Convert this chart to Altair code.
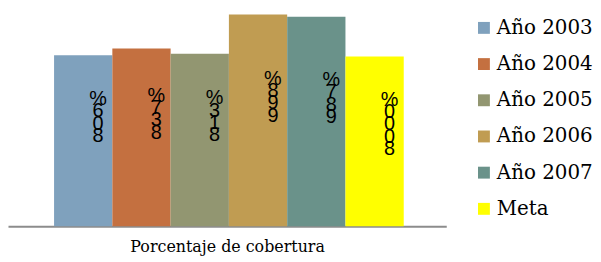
import altair as alt
import pandas as pd

series = ["Año 2003", "Año 2004", "Año 2005", "Año 2006", "Año 2007", "Meta"]
values = [80.6, 83.7, 81.3, 99.8, 98.7, 80.0]
labels = ["80,6%", "83,7%", "81,3%", "99,8%", "98,7%", "80,00%"]
colors = ["#7FA1BD", "#C47040", "#929671", "#C09C52", "#6A928A", "#FFFF00"]
category = "Porcentaje de cobertura"

def stacked(s):
    return "\n".join(ch for ch in reversed(s) if ch != ",")

df = pd.DataFrame({
    "serie": series,
    "valor": values,
    "etiqueta": [stacked(l) for l in labels],
    "mitad": [v / 2 for v in values],
})

x = alt.X("serie:N", sort=series,
          scale=alt.Scale(paddingInner=0, paddingOuter=0.76, align=0.52),
          axis=alt.Axis(title=category, labels=False, ticks=False,
                        domainColor="#8C8C8C", domainWidth=2,
                        titleFont="DejaVu Serif", titleFontSize=16,
                        titleFontWeight="normal", titleColor="#000000",
                        titlePadding=13))

bars = alt.Chart(df).mark_bar().encode(
    x=x,
    y=alt.Y("valor:Q", scale=alt.Scale(domain=[0, 100]), axis=None),
    color=alt.Color("serie:N", sort=series,
                    scale=alt.Scale(domain=series, range=colors),
                    legend=alt.Legend(title=None, orient="none",
                                      legendX=470, legendY=4,
                                      symbolType="square", symbolSize=144,
                                      symbolStrokeWidth=0, symbolOpacity=1,
                                      labelFont="DejaVu Serif", labelFontSize=20,
                                      labelColor="#000000", labelOffset=3,
                                      labelLimit=300, rowPadding=16.5,
                                      padding=0)),
)

text = alt.Chart(df).mark_text(
    font="Liberation Sans", fontSize=20, lineBreak="\n", lineHeight=12.5,
    baseline="middle", align="center", dx=15, dy=-42, color="#000000",
).encode(
    x=alt.X("serie:N", sort=series),
    y=alt.Y("mitad:Q"),
    text="etiqueta:N",
)

chart = (bars + text).properties(
    width=442, height=214,
    padding={"left": 0, "top": 5, "right": 0, "bottom": 0},
).configure_view(stroke=None).configure_axis(grid=False)

chart.save("out.html", embed_options={"renderer": "svg", "actions": False})
